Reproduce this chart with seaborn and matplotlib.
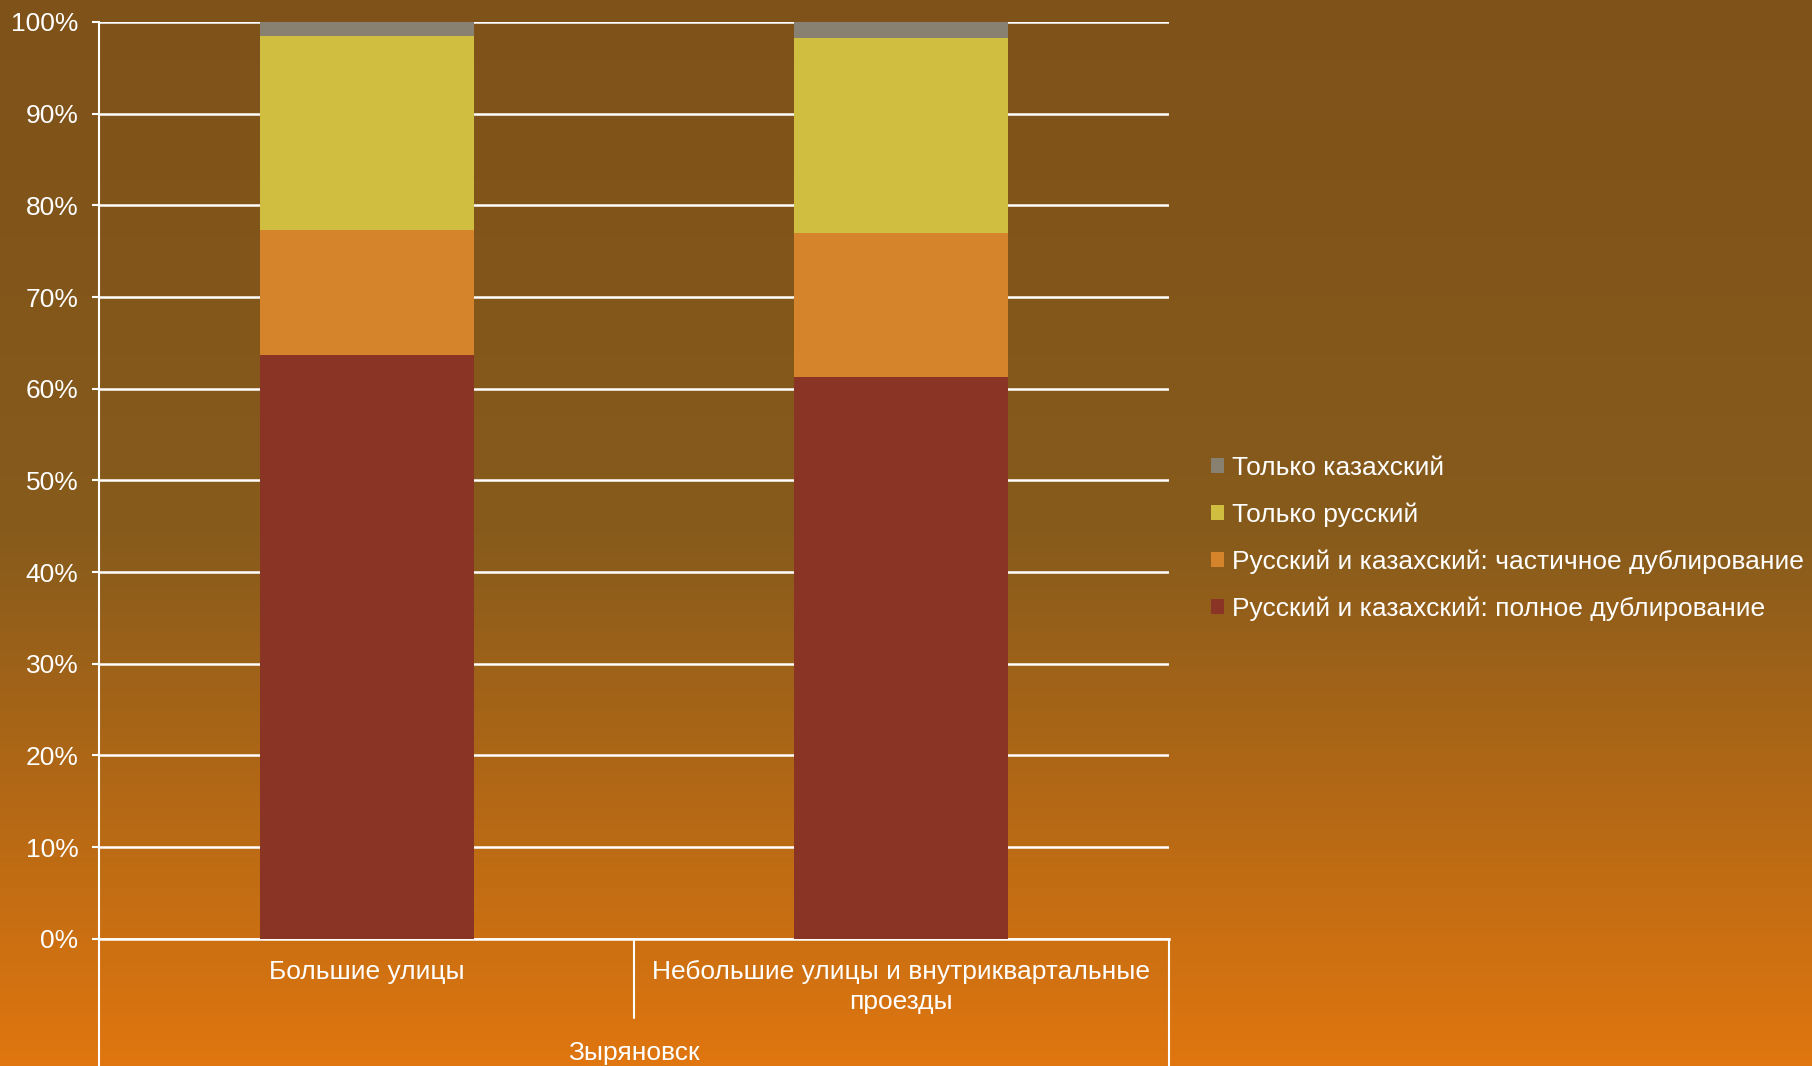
import numpy as np
import pandas as pd
import seaborn as sns
import matplotlib.pyplot as plt
from matplotlib.patches import Patch
from matplotlib.colors import LinearSegmentedColormap

# --- данные ---
categories = ['Большие улицы', 'Небольшие улицы и внутриквартальные\nпроезды']
group_label = 'Зыряновск'
layers = [
    'Русский и казахский: полное дублирование',
    'Русский и казахский: частичное дублирование',
    'Только русский',
    'Только казахский',
]
full_dup = [63.7, 61.3]
partial_dup = [13.6, 15.7]
only_ru = [21.2, 21.2]
only_kz = [1.5, 1.8]
colors = ['#8A3426', '#D5842C', '#D0BE41', '#888070']

sns.set_theme(style='white')
plt.rcParams['font.family'] = ['Liberation Sans', 'DejaVu Sans']
FS = 19

fig = plt.figure(figsize=(18.12, 10.66), dpi=100)

# фон с градиентом
bg = fig.add_axes([0, 0, 1, 1], zorder=-10)
cmap = LinearSegmentedColormap.from_list(
    'bg', [(0.0, '#7E5219'), (0.5, '#875B1C'), (1.0, '#E0760F')])
bg.imshow(np.linspace(0, 1, 256).reshape(-1, 1), aspect='auto', cmap=cmap,
          extent=[0, 1, 0, 1])
bg.set_axis_off()

ax = fig.add_axes([0.0548, 0.1193, 0.5902, 0.8601])
ax.set_facecolor('none')

vals = np.array([full_dup, partial_dup, only_ru, only_kz])
cum = np.cumsum(vals, axis=0)
# рисуем сверху вниз, чтобы получилась стопка
for i in range(len(layers) - 1, -1, -1):
    df = pd.DataFrame({'cat': categories, 'val': cum[i]})
    sns.barplot(data=df, x='cat', y='val', color=colors[i], width=0.4,
                saturation=1, linewidth=0, ax=ax, zorder=3)

ax.set_xlim(-0.5, 1.5)
ax.set_ylim(0, 100)
ax.set_yticks(range(0, 101, 10))
ax.set_yticklabels([f'{v}%' for v in range(0, 101, 10)], color='white', fontsize=FS)
ax.tick_params(axis='y', length=5, width=1.5, color='white', pad=10, left=True)
ax.grid(axis='y', color='white', linewidth=1.8, zorder=1)
ax.set_xticks([])
ax.set_xlabel('')
ax.set_ylabel('')
for s in ['top', 'right']:
    ax.spines[s].set_visible(False)
ax.spines['left'].set_color('white')
ax.spines['left'].set_linewidth(1.5)
ax.spines['bottom'].set_color('white')
ax.spines['bottom'].set_linewidth(1.8)

# двухуровневая подпись оси X
tr = ax.get_xaxis_transform()
ax.plot([-0.5, -0.5], [0, -0.16], color='white', lw=1.5, transform=tr, clip_on=False)
ax.plot([1.5, 1.5], [0, -0.16], color='white', lw=1.5, transform=tr, clip_on=False)
ax.plot([0.5, 0.5], [0, -0.086], color='white', lw=1.5, transform=tr, clip_on=False)
for i, c in enumerate(categories):
    ax.text(i, -0.023, c, transform=tr, ha='center', va='top', color='white',
            fontsize=FS, linespacing=1.3)
ax.text(0.5, -0.124, group_label, transform=tr, ha='center', va='center',
        color='white', fontsize=FS)

handles = [Patch(facecolor=colors[i], edgecolor='none') for i in range(len(layers) - 1, -1, -1)]
labels = [layers[i] for i in range(len(layers) - 1, -1, -1)]
fig.legend(handles, labels, loc='center left', bbox_to_anchor=(0.655, 0.495),
           frameon=False, fontsize=FS, labelcolor='white', handlelength=0.5,
           handleheight=0.5, handletextpad=0.3, labelspacing=0.85)

fig.savefig('out.png', dpi=100)
